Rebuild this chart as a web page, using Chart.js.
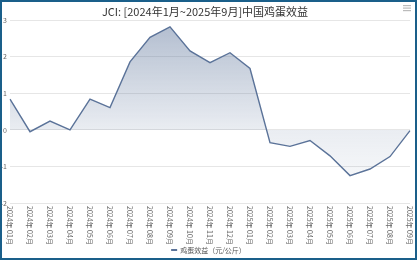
<!DOCTYPE html>
<html><head><meta charset="utf-8">
<script src="https://cdn.jsdelivr.net/npm/chart.js@4"></script>
<style>html,body{margin:0;padding:0;background:#fff}#wrap{width:417px;height:260px;position:relative}canvas{display:block}</style>
</head><body><div id="wrap"><canvas id="c" width="417" height="260"></canvas></div>
<script>
const titleText = "JCI: [2024年1月~2025年9月]中国鸡蛋效益";
const seriesName = "鸡蛋效益（元/公斤）";
const categories = ["2024年 01月","2024年 02月","2024年 03月","2024年 04月","2024年 05月","2024年 06月","2024年 07月","2024年 08月","2024年 09月","2024年 10月","2024年 11月","2024年 12月","2025年 01月","2025年 02月","2025年 03月","2025年 04月","2025年 05月","2025年 06月","2025年 07月","2025年 08月","2025年 09月"];
const values = [0.84,-0.05,0.24,0.0,0.84,0.61,1.86,2.53,2.82,2.16,1.84,2.11,1.68,-0.35,-0.45,-0.29,-0.71,-1.25,-1.07,-0.73,-0.02];
const yTicks = [-2,-1,0,1,2,3];

const FONT = '"Noto Sans CJK SC", "Open Sans", sans-serif';
const lineColor = '#5b7399';

const extras = {
  id: 'extras',
  afterDraw(chart) {
    const ctx = chart.ctx;
    const xs = chart.scales.x;
    ctx.save();
    ctx.fillStyle = '#666';
    ctx.font = '7px ' + FONT;
    ctx.textAlign = 'left';
    ctx.textBaseline = 'middle';
    categories.forEach((lab, i) => {
      const x = xs.getPixelForValue(i);
      ctx.save();
      ctx.translate(x, chart.chartArea.bottom + 3);
      ctx.rotate(Math.PI / 2);
      ctx.fillText(lab, 0, 0);
      ctx.restore();
    });
    // legend
    ctx.font = '7px ' + FONT;
    const tw = ctx.measureText(seriesName).width;
    const total = 6 + 3 + tw;
    const lx = 208.5 - total / 2;
    const ly = 250;
    ctx.fillStyle = lineColor;
    ctx.fillRect(lx, ly - 1, 6, 2);
    ctx.fillStyle = '#555';
    ctx.fillText(seriesName, lx + 9, ly);
    // menu icon
    ctx.fillStyle = '#bbb';
    for (let k = 0; k < 3; k++) ctx.fillRect(403, 5 + k * 2.5, 8, 1.2);
    // border
    ctx.strokeStyle = '#1a5f8a';
    ctx.lineWidth = 2;
    ctx.strokeRect(1, 1, 415, 258);
    ctx.restore();
  }
};

new Chart(document.getElementById('c'), {
  type: 'line',
  data: {
    labels: categories,
    datasets: [{
      label: seriesName,
      data: values,
      borderColor: lineColor,
      borderWidth: 1.4,
      pointRadius: 0,
      tension: 0,
      fill: 'origin',
      backgroundColor(ctx) {
        const ca = ctx.chart.chartArea;
        if (!ca) return 'rgba(91,115,153,0.3)';
        const g = ctx.chart.ctx.createLinearGradient(0, ca.top, 0, ca.bottom);
        g.addColorStop(0, 'rgba(91,115,153,0.48)');
        g.addColorStop(0.6, 'rgba(91,115,153,0.13)');
        g.addColorStop(1, 'rgba(91,115,153,0.02)');
        return g;
      }
    }]
  },
  options: {
    responsive: false,
    animation: false,
    layout: { padding: { left: 0, right: 7, top: 0, bottom: 0 } },
    plugins: {
      title: {
        display: true, text: titleText, color: '#333',
        font: { family: FONT, size: 11, weight: 'normal' },
        padding: { top: 5, bottom: 2 }
      },
      legend: { display: false },
      tooltip: { enabled: false }
    },
    scales: {
      x: {
        offset: false,
        grid: { display: false },
        border: { display: false },
        ticks: { display: false },
        afterFit(s) { s.height = 57; }
      },
      y: {
        min: -2, max: 3,
        afterBuildTicks(s) { s.ticks = yTicks.map(v => ({ value: v })); },
        grid: { color: '#e6e6e6', drawTicks: false },
        border: { display: false },
        ticks: { color: '#666', font: { family: FONT, size: 7 }, padding: 3 },
        afterFit(s) { s.width = 10; }
      }
    }
  },
  plugins: [extras]
});
</script></body></html>
